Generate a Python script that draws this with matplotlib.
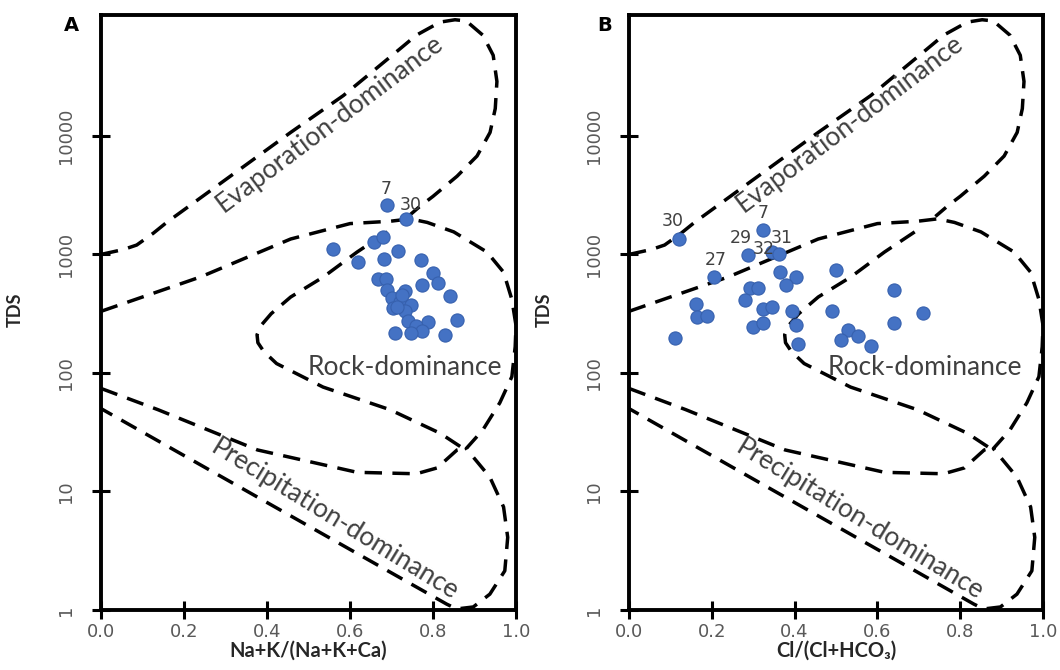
import matplotlib
matplotlib.use("Agg")
import matplotlib.pyplot as plt

# ---------------- data ----------------
# Panel A: Na+K/(Na+K+Ca) vs TDS
xA = [0.688, 0.735, 0.558, 0.658, 0.680, 0.716, 0.620, 0.682, 0.771, 0.800,
      0.813, 0.667, 0.687, 0.773, 0.841, 0.688, 0.733, 0.700, 0.720, 0.747,
      0.703, 0.733, 0.740, 0.789, 0.857, 0.760, 0.773, 0.708, 0.746, 0.830,
      0.725, 0.713]
tdsA = [2600, 2000, 1120, 1280, 1410, 1075, 860, 915, 890, 700,
        575, 620, 615, 557, 450, 505, 490, 430, 400, 377,
        355, 330, 272, 267, 277, 247, 224, 219, 217, 210,
        457, 363]
labelsA = {0: "7", 1: "30"}

# Panel B: Cl/(Cl+HCO3) vs TDS
xB = [0.1215, 0.324, 0.288, 0.345, 0.363, 0.205, 0.500, 0.365, 0.403, 0.379,
      0.292, 0.312, 0.280, 0.640, 0.162, 0.324, 0.345, 0.393, 0.490, 0.709,
      0.165, 0.188, 0.300, 0.323, 0.403, 0.640, 0.111, 0.530, 0.513, 0.554,
      0.585, 0.407]
tdsB = [1340, 1600, 990, 1047, 1016, 646, 736, 713, 646, 550,
        524, 524, 410, 505, 385, 347, 360, 330, 330, 320,
        296, 302, 244, 265, 252, 265, 197, 229, 190, 204,
        170, 176]
labelsB = {0: "30", 1: "7", 2: "29", 3: "32", 4: "31", 5: "27"}

# Gibbs boundary curves (ratio, TDS)
evap_x = [0.0, 0.054, 0.086, 0.126, 0.158, 0.457, 0.584, 0.648, 0.712, 0.76,
          0.817, 0.853, 0.88, 0.92, 0.945, 0.954, 0.95, 0.9375, 0.906, 0.858,
          0.80, 0.77, 0.74]
evap_tds = [1000, 1100, 1200, 1510, 1860, 10700, 21900, 33500, 51300, 70800,
            91200, 95500, 93300, 70800, 47900, 28800, 17000, 10700, 6760, 4570,
            3090, 2570, 2090]

rock_outer_x = [0.0, 0.24, 0.457, 0.60, 0.697, 0.745, 0.786, 0.85, 0.93, 0.97,
                0.99, 1.0, 0.998, 0.99, 0.961, 0.92, 0.88, 0.937, 0.97, 0.98,
                0.973, 0.937, 0.897, 0.857, 0.833, 0.0]
rock_outer_tds = [331, 646, 1349, 1820, 1905, 1995, 1862, 1549, 1047, 708,
                  417, 251, 166, 93, 56, 33, 23, 13.2, 7.4, 4.1,
                  2.14, 1.36, 1.06, 1.02, 1.12, 50]

rock_inner_x = [0.69, 0.617, 0.536, 0.457, 0.41, 0.385, 0.376, 0.378, 0.392,
                0.423, 0.535, 0.696, 0.817, 0.87]
rock_inner_tds = [1549, 1047, 646, 437, 316, 250, 210, 180, 152,
                  120, 76, 49, 31, 23.4]

precip_x = [0.0, 0.137, 0.377, 0.617, 0.76, 0.81, 0.858, 0.88]
precip_tds = [74, 49, 22.4, 14.5, 14.1, 15.8, 22.4, 23.4]

x_ticks = [0.0, 0.2, 0.4, 0.6, 0.8, 1.0]
y_ticks = [1, 10, 100, 1000, 10000]

# ---------------- styling ----------------
TXT = "#404040"
TICKC = "#595959"
PT_FACE = "#4472C4"
PT_EDGE = "#3761AE"

fig = plt.figure(figsize=(10.6, 6.7), dpi=100)
axA = fig.add_axes([0.0953, 0.0896, 0.3915, 0.888])
axB = fig.add_axes([0.5934, 0.0896, 0.3906, 0.888])

def setup(ax, xlabel):
    ax.set_yscale("log")
    ax.set_xlim(0, 1.0)
    ax.set_ylim(1, 10 ** 5.02)
    ax.set_xticks(x_ticks)
    ax.set_xticklabels([f"{v:.1f}" for v in x_ticks])
    ax.set_yticks(y_ticks)
    ax.set_yticklabels([str(v) for v in y_ticks])
    ax.minorticks_off()
    for s in ax.spines.values():
        s.set_linewidth(2.8)
        s.set_color("black")
    ax.tick_params(axis="both", direction="inout", length=13, width=2.2,
                   color="black", labelsize=13, labelcolor=TICKC)
    ax.tick_params(axis="x", pad=3)
    ax.tick_params(axis="y", pad=12)
    for lab in ax.get_yticklabels():
        lab.set_rotation(90)
        lab.set_va("center")
        lab.set_ha("right")
    ax.set_ylabel("TDS", fontsize=13, fontweight="bold", family=["Lato", "DejaVu Sans"],
                  color="#262626")
    ax.yaxis.set_label_coords(-0.185, 0.505)
    ax.set_xlabel(xlabel, fontsize=14.5, fontweight="bold",
                  family=["Lato", "DejaVu Sans"], color="#262626")
    ax.xaxis.set_label_coords(0.5, -0.052)

    ls = dict(color="black", lw=2.5, dashes=(5, 3), solid_capstyle="butt",
              dash_capstyle="butt", zorder=2)
    ax.plot(evap_x, evap_tds, **ls)
    ax.plot(rock_outer_x, rock_outer_tds, **ls)
    ax.plot(rock_inner_x, rock_inner_tds, **ls)
    ax.plot(precip_x, precip_tds, **ls)

def region_labels(ax, ev_x, pr_x, rk_x):
    fam = ["Lato", "DejaVu Sans"]
    ax.text(ev_x, 10 ** 4.10, "Evaporation-dominance", rotation=37, fontsize=19,
            color=TXT, ha="center", va="center", family=fam, rotation_mode="anchor")
    ax.text(pr_x, 10 ** 0.76, "Precipitation-dominance", rotation=-31.5, fontsize=19,
            color=TXT, ha="center", va="center", family=fam, rotation_mode="anchor")
    ax.text(rk_x, 10 ** 2.05, "Rock-dominance", fontsize=19,
            color=TXT, ha="center", va="center", family=fam)

setup(axA, "Na+K/(Na+K+Ca)")
setup(axB, "Cl/(Cl+HCO\u2083)")

axA.scatter(xA, tdsA, s=90, c=PT_FACE, edgecolors=PT_EDGE, linewidths=0.8, zorder=3)
axB.scatter(xB, tdsB, s=90, c=PT_FACE, edgecolors=PT_EDGE, linewidths=0.8, zorder=3)

offA = {0: (0, 12), 1: (3, 10)}
offB = {0: (-5, 13), 1: (0, 12.5), 2: (-5, 12), 3: (-6, 2.5), 4: (2, 11), 5: (1, 12)}
for i, t in labelsA.items():
    axA.annotate(t, (xA[i], tdsA[i]), xytext=offA[i], textcoords="offset points",
                 ha="center", va="center", fontsize=12.5, color=TXT, zorder=4)
for i, t in labelsB.items():
    axB.annotate(t, (xB[i], tdsB[i]), xytext=offB[i], textcoords="offset points",
                 ha="center", va="center", fontsize=12.5, color=TXT, zorder=4)

region_labels(axA, 0.552, 0.564, 0.731)
region_labels(axB, 0.534, 0.558, 0.714)

fig.text(0.067, 0.962, "A", fontsize=14, fontweight="bold", ha="center", va="center")
fig.text(0.570, 0.962, "B", fontsize=14, fontweight="bold", ha="center", va="center")

fig.savefig("out.png", dpi=100, facecolor="white")
